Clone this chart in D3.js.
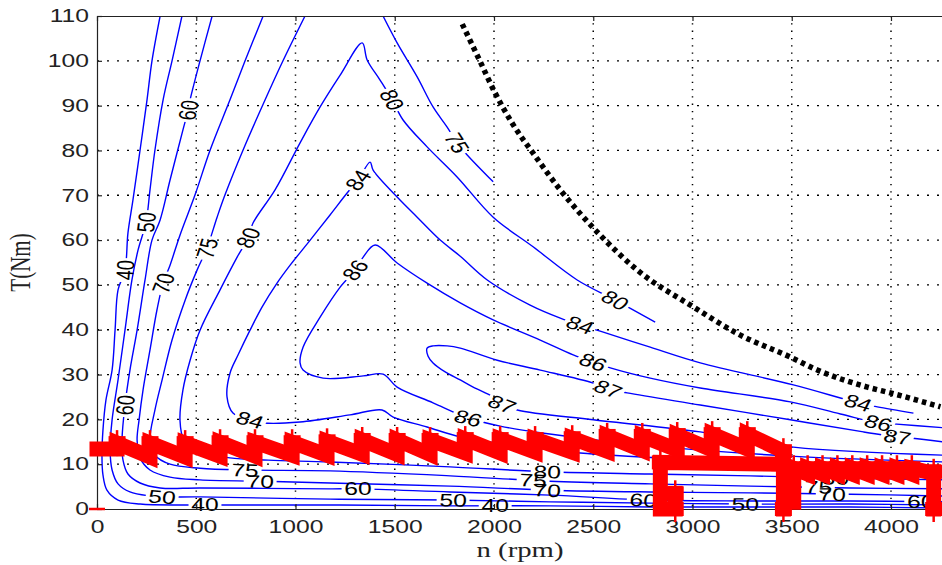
<!DOCTYPE html>
<html>
<head>
<meta charset="UTF-8">
<title>Efficiency map</title>
<script src="https://cdnjs.cloudflare.com/ajax/libs/d3/7.8.5/d3.min.js"></script>
<style>
  body { margin: 0; background: #fff; }
  svg { display: block; }
</style>
</head>
<body>
<script>
// axis ticks
const xTicks = [0, 500, 1000, 1500, 2000, 2500, 3000, 3500, 4000];
const yTicks = [0, 10, 20, 30, 40, 50, 60, 70, 80, 90, 100, 110];

// efficiency contours, [n (rpm), T (Nm)]
const eff40 = [[318,110],[277,100],[252,91.3],[217,80.1],[181,68.9],[156,61.6],[141,53.3],[106,48.9],[91,39.9],[76,31.0],[45,24.3],[30,17.6],[25,12.0],[30,7.6],[50,4.2],[106,2.0],[217,1.1],[519,0.9],[1174,0.9],[1779,0.7],[2283,0.7],[2787,0.45],[3291,0.45],[3795,0.45],[4274,0.2]];
const eff50 = [[428,110],[378,100],[333,91.3],[292,80.1],[267,71.2],[247,64.0],[207,57.8],[176,51.1],[141,39.9],[106,28.8],[76,19.9],[66,13.2],[76,8.7],[106,5.6],[166,3.8],[267,2.9],[328,2.7],[519,2.7],[1174,2.2],[1779,2.0],[2283,1.6],[2787,1.3],[3291,1.1],[3795,1.1],[4274,0.9]];
const eff60 = [[580,110],[519,100],[469,91.3],[459,89.0],[433,84.6],[368,73.4],[318,64.5],[277,60.0],[242,51.1],[202,39.9],[166,31.0],[141,23.2],[126,15.4],[131,10.9],[156,7.8],[217,5.8],[318,4.7],[519,4.7],[1174,4.5],[1315,4.5],[1779,3.8],[2283,3.1],[2787,2.0],[3291,1.8],[3795,1.8],[4274,1.6]];
const eff70 = [[837,110],[746,100],[670,91.3],[570,80.1],[494,70.1],[418,61.1],[368,54.4],[333,50.4],[302,44.4],[267,35.5],[232,26.6],[212,19.9],[202,15.4],[217,11.4],[267,8.7],[368,7.1],[519,6.5],[822,6.2],[1174,5.8],[1779,5.1],[2283,4.2],[2787,3.8],[3291,3.6],[3795,3.3],[4274,2.9]];
const eff75a = [[1048,110],[937,100],[847,91.3],[736,80.1],[645,70.1],[605,65.1],[554,58.2],[504,53.3],[444,46.6],[378,37.7],[328,28.8],[292,22.1],[267,15.4],[292,12.0],[368,10.0],[519,9.1],[746,8.7],[1174,8.5],[1779,7.4],[2283,6.2],[2787,5.6],[3291,5.1],[3795,4.7],[4274,4.5]];
const eff75b = [[1441,110],[1512,104.0],[1613,96.4],[1693,89.7],[1764,85.2],[1814,81.7],[1865,79.0],[1996,73.0]];
const eff80 = [[4274,6.5],[3720,6.9],[3291,7.4],[2787,7.8],[2268,8.3],[1779,9.4],[1174,10.5],[862,10.9],[670,11.4],[519,12.7],[438,15.4],[418,19.9],[433,26.6],[469,33.2],[519,39.9],[620,48.9],[706,56.2],[761,60.5],[786,63.8],[897,71.2],[1023,81.7],[1124,89.7],[1225,96.8],[1336,104.0],[1361,100.2],[1426,95.7],[1487,91.3],[1542,86.8],[1663,80.8],[1814,74.1],[1996,65.1],[2197,58.5],[2419,51.1],[2611,46.6],[2812,41.7]];
const eff84 = [[4274,8.7],[3543,9.8],[3039,10.9],[2434,12.5],[2132,14.1],[1830,16.1],[1663,18.3],[1492,20.5],[1436,22.1],[1275,21.0],[1023,19.4],[837,19.2],[771,19.9],[685,21.4],[655,25.0],[670,30.3],[711,34.4],[771,39.9],[832,45.1],[907,50.4],[973,54.4],[1074,60.0],[1174,65.6],[1260,70.5],[1315,73.4],[1376,77.4],[1391,75.6],[1512,69.6],[1613,65.1],[1729,60.0],[1830,56.4],[1966,51.1],[2182,45.5],[2334,42.6],[2434,41.1],[2535,39.7],[2787,36.1],[3039,32.6],[3508,27.7],[3835,23.7],[3931,22.8],[4113,21.4]];
const eff86 = [[4274,10.5],[3493,11.8],[2737,14.3],[2233,17.0],[2031,18.5],[1870,20.3],[1693,23.7],[1512,27.2],[1441,30.1],[1341,29.7],[1139,29.2],[1038,31.0],[1023,32.6],[1038,36.1],[1124,42.8],[1225,49.5],[1300,53.3],[1341,56.2],[1401,58.9],[1512,54.9],[1663,50.4],[1830,46.0],[1996,42.2],[2233,37.7],[2399,34.4],[2500,32.8],[2586,31.5],[2787,29.2],[3039,27.0],[3493,23.9],[3745,21.2],[3936,19.2],[4012,19.0],[4274,18.1]];
const eff87 = [[4274,12.0],[3508,13.8],[3039,17.2],[2500,19.9],[2117,22.1],[2041,23.4],[1996,25.0],[1895,27.2],[1830,28.8],[1754,30.6],[1693,32.6],[1668,34.1],[1663,35.9],[1693,36.4],[1764,36.4],[1830,35.9],[2016,33.2],[2233,31.0],[2500,28.1],[2575,26.8],[2671,25.9],[3039,23.2],[3493,19.9],[3861,17.2],[4032,16.1],[4108,15.8],[4274,14.9]];

const contourLines = [[40, eff40], [50, eff50], [60, eff60], [70, eff70], [75, eff75a], [75, eff75b],
                      [80, eff80], [84, eff84], [86, eff86], [87, eff87]];
const levels = [40, 50, 60, 70, 75, 80, 84, 86, 87];

// inline contour labels
const labelLevel = [40, 40, 40, 50, 50, 50, 50, 60, 60, 60, 60, 60, 70, 70, 70, 70, 75, 75, 75, 75, 75,
                    80, 80, 80, 80, 80, 84, 84, 84, 84, 86, 86, 86, 86, 87, 87, 87];
const labelN = [141, 544, 2006, 247, 328, 1794, 3266, 459, 141, 1315, 2752, 4150, 333, 822, 2268, 3704,
                554, 1814, 746, 2197, 3634, 761, 1487, 2611, 2268, 3720, 1315, 771, 2434, 3835,
                1300, 1870, 2500, 3936, 2041, 2575, 4032];
const labelT = [53.3, 0.9, 0.7, 64.0, 2.7, 2.0, 1.1, 89.0, 23.2, 4.5, 2.0, 1.7, 50.4, 6.2, 4.2, 3.3,
                58.2, 81.7, 8.7, 6.4, 4.9, 60.5, 91.3, 46.6, 8.3, 6.9, 73.4, 19.9, 41.1, 23.7,
                53.3, 20.3, 32.8, 19.2, 23.4, 26.8, 16.1];

// maximum torque curve
const torqueLimit = [[1840,108.2],[1920,100.8],[2006,92.8],[2097,85.7],[2197,79.4],[2334,71.2],[2535,61.1],[2722,53.3],[3004,45.1],[3241,38.8],[3493,33.9],[3629,31.0],[3881,27.2],[3997,25.9],[4249,22.8]];

// operating points of the cycle
const run1 = [[0,13.4],[101,13.4],[101,14.7],[267,11.6],[267,14.7],[444,11.6],[444,14.7],[620,11.8],[620,14.9],[796,11.8],[796,14.9],[983,12.0],[983,14.9],[1159,12.0],[1159,15.1],[1336,12.2],[1336,15.4],[1512,12.2],[1512,15.4],[1678,12.2],[1678,15.4],[1855,12.5],[1855,15.6],[2031,12.5],[2031,15.6],[2207,12.7],[2207,15.6],[2394,12.7],[2394,15.8],[2570,12.9],[2570,16.3],[2747,13.1],[2747,16.3],[2923,13.2],[2923,16.5],[3099,13.2],[3099,16.7],[3276,13.4],[3276,16.7],[3458,12.9],[3458,0]];
const run2 = [[2838,0],[2838,10.4],[3440,10.0]];
const run3 = [[2913,3.5],[2913,0]];
const run4 = [[3510,1.5],[3510,9.1],[3580,7.8],[3580,9.1],[3655,7.8],[3655,9.1],[3730,7.8],[3730,9.1],[3805,7.8],[3805,9.1],[3880,7.8],[3880,9.1],[3955,7.8],[3955,9.1],[4030,7.8],[4030,9.1],[4105,7.8],[4105,9.1],[4180,8.3],[4215,8.3],[4215,0]];
const runs = [run1, run2, run3, run4];
const originMark = [0, 0];

const W = 942, H = 565;
const SX = 1.37; // the figure is stretched horizontally

const x = d3.scaleLinear().domain([0, 4265]).range([97, 943.6]);
const y = d3.scaleLinear().domain([0, 110]).range([509, 16]);

const svg = d3.select("body").append("svg")
  .attr("width", W).attr("height", H)
  .style("font-family", "'Liberation Sans', Arial, sans-serif");

const defs = svg.append("defs");
defs.append("clipPath").attr("id", "plotClip").append("rect")
  .attr("x", x.range()[0]).attr("y", y(110))
  .attr("width", x.range()[1] - x.range()[0]).attr("height", y(0) - y(110));

// dotted grid
const grid = svg.append("g").attr("stroke", "#000");
yTicks.filter(v => v > 0 && v < 110).forEach(v => {
  grid.append("line")
    .attr("x1", x.range()[0]).attr("x2", x.range()[1])
    .attr("y1", y(v)).attr("y2", y(v))
    .attr("stroke-width", 1.3).attr("stroke-dasharray", "2 8");
});
xTicks.filter(v => v > 0).forEach(v => {
  grid.append("line")
    .attr("x1", x(v)).attr("x2", x(v))
    .attr("y1", y(110)).attr("y2", y(0))
    .attr("stroke-width", 1.5).attr("stroke-dasharray", "1.3 6");
});

// masks that cut gaps where labels sit
levels.forEach(lv => {
  defs.append("mask").attr("id", "gap" + lv)
    .attr("maskUnits", "userSpaceOnUse")
    .attr("x", 0).attr("y", 0).attr("width", W).attr("height", H)
    .append("rect").attr("width", W).attr("height", H).attr("fill", "#fff");
});

const line = d3.line()
  .x(d => x(d[0])).y(d => y(d[1]))
  .curve(d3.curveCatmullRom.alpha(0.5));

const cg = svg.append("g").attr("clip-path", "url(#plotClip)");
contourLines.forEach(([lv, pts]) => {
  cg.append("g").attr("mask", `url(#gap${lv})`)
    .append("path")
    .attr("d", line(pts))
    .attr("fill", "none")
    .attr("stroke", "#0000ff")
    .attr("stroke-width", 1.4);
});

// angle of the contour near a label, in unstretched space
function labelAngle(lv, px, py) {
  let best = [1, 0], bestD = Infinity;
  contourLines.filter(c => c[0] === lv).forEach(([, pts]) => {
    for (let i = 0; i < pts.length - 1; i++) {
      const ax = x(pts[i][0]), ay = y(pts[i][1]);
      const dx = x(pts[i + 1][0]) - ax, dy = y(pts[i + 1][1]) - ay;
      const L = dx * dx + dy * dy;
      let t = L ? ((px - ax) * dx + (py - ay) * dy) / L : 0;
      t = Math.max(0, Math.min(1, t));
      const d = Math.hypot(ax + t * dx - px, ay + t * dy - py);
      if (d < bestD) { bestD = d; best = [dx, dy]; }
    }
  });
  let a = Math.atan2(best[1], best[0] / SX) * 180 / Math.PI;
  if (a > 90) a -= 180;
  if (a <= -90) a += 180;
  return a;
}

const lg = svg.append("g").attr("font-size", 18).attr("fill", "#000");
labelLevel.forEach((lv, i) => {
  const px = x(labelN[i]), py = y(labelT[i]);
  const tf = `translate(${px},${py}) scale(${SX},1) rotate(${labelAngle(lv, px, py)})`;
  const t = lg.append("text")
    .attr("transform", tf)
    .attr("text-anchor", "middle")
    .attr("dy", "0.36em")
    .text(lv);
  const w = t.node().getComputedTextLength();
  d3.select("#gap" + lv).append("rect")
    .attr("transform", tf)
    .attr("x", -w / 2 - 2).attr("y", -7)
    .attr("width", w + 4).attr("height", 14)
    .attr("fill", "#000");
});

// max torque curve, drawn as a dotted heavy line
svg.append("path")
  .attr("clip-path", "url(#plotClip)")
  .attr("d", d3.line().x(d => x(d[0])).y(d => y(d[1])).curve(d3.curveMonotoneX)(torqueLimit))
  .attr("fill", "none")
  .attr("stroke", "#000")
  .attr("stroke-width", 5.5)
  .attr("stroke-dasharray", "4.5 4");

// axes
function styleAxis(g) {
  g.attr("font-size", 18)
    .attr("font-family", "'Liberation Sans', Arial, sans-serif")
    .attr("color", "#222");
  g.selectAll("path, line").attr("stroke-width", 1.2);
}

const axB = svg.append("g")
  .attr("transform", `translate(0,${y(0)})`)
  .call(d3.axisBottom(x).tickValues(xTicks).tickFormat(d3.format("d"))
    .tickSizeInner(-5).tickSizeOuter(0).tickPadding(11))
  .call(styleAxis);
axB.selectAll("text").attr("transform", `scale(${SX},1)`);

const axL = svg.append("g")
  .attr("transform", `translate(${x(0)},0)`)
  .call(d3.axisLeft(y).tickValues(yTicks).tickFormat(d3.format("d"))
    .tickSizeInner(-5).tickSizeOuter(0).tickPadding(8))
  .call(styleAxis);
axL.selectAll("text").attr("x", -8 / SX).attr("transform", `scale(${SX},1)`);

svg.append("g")
  .attr("transform", `translate(0,${y(110)})`)
  .call(d3.axisTop(x).tickValues(xTicks).tickSizeInner(-5).tickSizeOuter(0).tickFormat(""))
  .call(styleAxis);

// axis titles
svg.append("text")
  .attr("transform", `translate(520,557) scale(${SX},1)`)
  .attr("text-anchor", "middle")
  .style("font-family", "'Liberation Serif', 'Times New Roman', serif")
  .attr("font-size", 21)
  .attr("fill", "#222")
  .text("n (rpm)");

svg.append("text")
  .attr("transform", `translate(30,${(y(0) + y(110)) / 2}) scale(${SX},1) rotate(-90)`)
  .attr("text-anchor", "middle")
  .style("font-family", "'Liberation Serif', 'Times New Roman', serif")
  .attr("font-size", 21)
  .attr("fill", "#222")
  .text("T(Nm)");

// operating points in red: thick path plus '+' markers at the peaks
const redLine = d3.line().x(d => x(d[0])).y(d => y(d[1]));
const rg = svg.append("g");
runs.forEach(run => {
  rg.append("path")
    .attr("d", redLine(run))
    .attr("fill", "none")
    .attr("stroke", "#ff0000")
    .attr("stroke-width", 15)
    .attr("stroke-linecap", "square");
  run.forEach((p, i) => {
    const last = i === run.length - 1;
    if (!last && !(p[1] > run[i + 1][1])) return;
    const cx = x(p[0]), cy = y(p[1]);
    rg.append("rect")
      .attr("x", cx - 8.5).attr("y", cy - 7)
      .attr("width", 17).attr("height", 14)
      .attr("fill", "#ff0000");
    rg.append("line")
      .attr("x1", cx).attr("x2", cx)
      .attr("y1", cy - 13).attr("y2", cy + 13)
      .attr("stroke", "#ff0000").attr("stroke-width", 2.5);
  });
});
rg.append("line")
  .attr("x1", x(originMark[0]) - 8).attr("x2", x(originMark[0]) + 8)
  .attr("y1", y(originMark[1])).attr("y2", y(originMark[1]))
  .attr("stroke", "#ff0000").attr("stroke-width", 2.5);
</script>
</body>
</html>
